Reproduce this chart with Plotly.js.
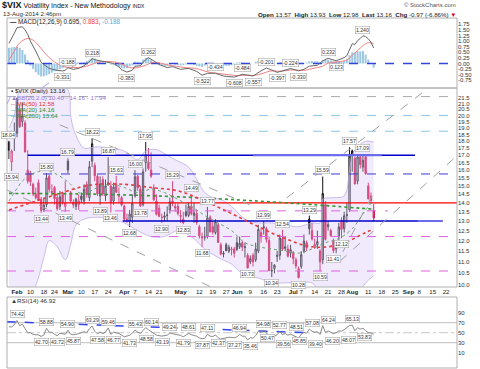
<!DOCTYPE html>
<html><head><meta charset="utf-8">
<script src="https://cdn.plot.ly/plotly-3.0.1.min.js"></script>
<style>html,body{margin:0;padding:0;background:#fff}#c{width:480px;height:369px}</style>
</head><body><div id="c"></div><script>
// ---------- DATA ----------
const holidays = ['02-17','04-18','05-26','07-04','09-01'];
const prevClose = 15.80; // Jan 28 close
const O = [17.95,16.55,18.70, 18.60,20.40,19.50,19.40,16.00, 15.80,15.10,14.50,15.20,14.20, 13.60,13.90,15.60,14.60, 14.90,14.30,13.80,14.50,13.80,
 16.60,14.60,14.00,13.80,13.90, 14.40,14.10,15.10,14.30,16.60, 16.30,15.60,14.40,15.40,14.40, 15.20,15.00,14.10,15.10,14.40,
 14.30,13.80,13.10,13.00,13.20, 14.40,15.60,14.80,13.90,16.50, 16.50,16.00,14.90,14.10, 13.70,13.20,13.20,13.30,13.60,
 14.10,13.80,13.80,13.30,13.10, 13.50,13.30,13.80,13.30,13.40, 12.70,12.20,12.20,12.20,13.20, 12.70,12.40,12.80,11.80,11.40, 11.80,11.50,11.60,11.60,
 11.90,11.70,11.90,11.70,11.30, 11.00,11.30,11.10,11.50,12.40, 12.70,12.60,12.00,10.60,10.70, 11.30,11.30,12.10,11.70,11.60, 11.40,11.40,11.10,10.70,
 10.80,11.50,11.90,13.10,12.50, 11.70,11.80,11.50,11.10,13.90, 12.70,12.50,12.00,11.60,12.20, 13.00,12.60,13.30,13.60,17.30,
 16.80,15.30,16.90,16.20,16.90, 15.00,14.40,13.57];
const H = [18.04,17.40,19.43, 21.48,20.90,21.09,19.60,17.35, 15.95,15.20,14.90,15.40,14.35, 14.30,15.80,15.70,15.10, 15.00,14.50,14.70,14.60,15.30,
 16.79,14.70,14.20,14.30,14.50, 14.60,15.10,15.30,16.60,18.22, 16.50,15.70,15.60,15.60,15.40, 16.87,15.30,15.20,15.63,14.90,
 14.40,13.90,13.40,13.60,14.50, 16.00,15.70,15.00,16.10,17.95, 17.50,17.20,15.10,14.50, 13.90,13.40,13.50,13.80,14.30,
 15.29,14.00,14.00,13.60,13.50, 13.90,14.00,14.49,14.00,13.60, 12.80,12.40,12.70,13.77,13.30, 13.00,13.10,12.90,11.90,11.50, 11.90,11.80,11.70,11.70,
 12.20,12.20,12.00,11.90,11.40, 11.30,11.40,11.90,12.80,12.60, 12.99,12.70,12.20,11.00,10.90, 11.50,12.30,12.54,12.20,11.80, 11.80,11.50,11.20,10.80,
 11.50,12.30,12.00,13.29,12.90, 12.10,12.50,11.60,15.59,14.10, 13.00,12.60,12.10,12.00,12.90, 13.20,13.50,14.00,17.57,17.40,
 16.90,17.00,17.05,17.09,17.00, 15.20,14.60,13.93];
const L = [16.74,15.94,17.30, 18.30,19.00,19.10,17.20,15.15, 15.00,14.40,14.20,14.10,13.44, 13.50,13.75,14.60,14.40, 13.90,13.55,13.60,13.90,13.49,
 15.80,14.00,13.70,13.60,13.60, 14.00,13.90,14.30,14.10,16.20, 15.30,14.40,13.89,14.40,14.10, 15.00,13.46,13.90,14.60,14.00,
 13.80,13.00,12.90,12.68,12.90, 14.30,14.70,13.78,13.80,15.90, 16.00,15.50,14.10,13.30, 13.20,12.90,13.00,13.00,13.40,
 13.80,13.50,13.30,12.90,12.83, 13.20,13.20,13.30,12.90,12.80, 12.10,11.68,12.00,12.10,12.40, 12.30,12.30,11.90,11.30,11.20, 11.50,11.40,11.30,11.20,
 11.50,11.60,11.50,11.20,10.73, 10.90,10.80,11.00,11.40,11.90, 12.30,11.90,10.60,10.34,10.50, 11.00,11.10,11.50,11.50,11.20, 11.20,10.90,10.70,10.28,
 10.70,11.40,11.50,12.30,12.00, 11.60,11.60,10.59,10.90,12.00, 12.50,12.20,11.41,11.40,12.00, 12.12,12.40,12.90,13.50,15.90,
 15.10,15.10,16.10,15.90,15.70, 14.20,14.00,12.98];
const C = [17.35,17.29,18.41, 21.44,19.11,19.95,17.23,15.29, 15.26,14.51,14.30,14.14,13.57, 13.87,15.50,14.79,14.68, 14.23,13.67,14.35,14.04,14.00,
 16.00,14.10,13.89,14.21,14.11, 14.20,14.80,14.47,16.22,17.82, 15.64,14.52,15.12,14.52,15.00, 15.09,14.02,14.93,14.62,14.41,
 13.88,13.10,13.09,13.37,13.96, 15.57,14.89,13.82,15.89,17.03, 16.11,15.61,14.18,13.36, 13.25,13.19,13.27,13.32,14.06,
 13.97,13.71,13.41,13.25,12.91, 13.29,13.80,13.40,13.43,12.92, 12.23,12.13,12.17,13.17,12.44, 12.42,12.96,11.91,11.36,11.36, 11.51,11.68,11.57,11.40,
 11.58,11.87,11.68,11.68,10.73, 11.15,11.00,11.60,12.56,12.18, 12.65,12.06,10.61,10.62,10.85, 11.26,12.13,11.59,11.63,11.26, 11.57,11.15,10.82,10.32,
 11.33,11.98,11.65,12.59,12.08, 11.82,11.96,11.00,14.54,12.06, 12.81,12.24,11.52,11.84,12.69, 12.56,13.28,13.33,16.95,17.03,
 15.12,16.87,16.37,16.66,15.77, 14.23,14.13,13.16];
const histValues = [0.70,0.72,0.74, 0.75,0.70,0.60,0.40,0.15, -0.10,-0.24,-0.39,-0.51,-0.58, -0.57,-0.53,-0.48,-0.41, -0.35,-0.31,-0.25,-0.21,-0.14,
 -0.03,-0.08,-0.07,-0.04,-0.02, 0.03,0.05,0.12,0.18,0.24, 0.22,0.15,0.10,0.05,0.02, 0.00,-0.05,-0.07,-0.12,-0.15,
 -0.20,-0.23,-0.20,-0.12,-0.08, 0.08,0.08,0.05,0.18,0.25, 0.24,0.15,0.08,0.00, -0.05,-0.08,-0.10,-0.10,-0.05,
 -0.02,-0.05,-0.07,-0.08,-0.07, -0.04,0.00,-0.02,-0.06,-0.10, -0.13,-0.15,-0.10,-0.03,0.00, 0.02,0.00,-0.05,-0.08,-0.09, -0.10,-0.10,-0.08,-0.04,
 0.04,0.06,0.04,0.00,-0.02, -0.01,0.00,0.08,0.14,0.17, 0.22,0.20,0.10,0.05,0.00, -0.02,0.05,0.06,0.06,0.07, 0.07,0.05,0.00,-0.03,
 -0.02,0.02,0.05,0.10,0.11, 0.10,0.10,0.06,0.15,0.16, 0.17,0.14,0.09,0.06,0.10, 0.08,0.12,0.19,0.37,0.50,
 0.48,0.55,0.54,0.55,0.40, 0.175,0.02,-0.188];

const macdDates = ['01-29','01-30','01-31','02-03','02-05','02-06','02-07','02-10','02-11','02-12','02-13','02-14','02-18','02-19','02-20','02-21','02-24','02-25','02-27','02-28',
 '03-03','03-05','03-07','03-11','03-13','03-14','03-17','03-20','03-24','03-26','03-28','03-31','04-02','04-04','04-07','04-09','04-11','04-14','04-16','04-21','04-24','04-28',
 '05-01','05-06','05-09','05-13','05-15','05-20','05-23','05-30','06-04','06-06','06-10','06-13','06-17','06-20','06-23','06-27','06-30','07-03','07-08','07-10','07-15','07-17',
 '07-21','07-24','07-29','07-30','07-31','08-01','08-04','08-05','08-06','08-07','08-08','08-11','08-12','08-13'];
const macdValues = [0.90,1.10,1.35,1.60,1.64,1.50,1.30,1.00,0.80,0.55,0.30,0.05,-0.05,-0.15,-0.22,-0.25,-0.28,-0.31,-0.331,-0.30,
 -0.188,-0.26,-0.22,-0.10,0.08,0.218,0.17,0.10,0.08,0.00,-0.15,-0.28,-0.383,-0.30,-0.12,-0.10,0.18,0.262,0.12,-0.05,-0.18,-0.14,
 -0.26,-0.22,-0.35,-0.522,-0.44,-0.434,-0.56,-0.608,-0.484,-0.53,-0.557,-0.33,-0.201,-0.34,-0.397,-0.26,-0.224,-0.330,-0.26,-0.12,-0.08,0.12,
 0.232,0.123,0.26,0.35,0.62,0.88,0.85,1.02,1.12,1.240,1.20,1.10,0.95,0.695];
const macdSide = [0,0,0,0,0,0,0,0,0,0,0,0,0,0,0,0,0,0,-1,0, 1,0,0,0,0,1,0,0,0,0,0,0,-1,0,0,0,0,1,0,0,0,0,
 0,0,0,-1,0,1,0,-1,1,0,-1,0,1,0,-1,0,1,-1,0,0,0,0, 1,-1,0,0,0,0,0,0,0,1,0,0,0,0];
const signalDates = ['01-29','01-31','02-04','02-07','02-11','02-13','02-18','02-20','02-24','02-26','02-28','03-04','03-06','03-10','03-12','03-14','03-18','03-20','03-24','03-26','03-28',
 '04-01','04-03','04-07','04-09','04-11','04-15','04-17','04-22','04-24','04-28','05-01','05-05','05-08','05-12','05-14','05-16','05-20','05-22','05-28','06-02','06-04','06-06','06-10',
 '06-12','06-16','06-18','06-20','06-24','06-26','06-30','07-02','07-07','07-09','07-11','07-15','07-17','07-21','07-23','07-25','07-29','07-30','07-31','08-01','08-04','08-05','08-06',
 '08-07','08-08','08-11','08-12','08-13'];
const signalValues = [0.15,0.55,0.92,1.12,1.04,0.81,0.52,0.26,0.07,-0.07,-0.16,-0.17,-0.18,-0.17,-0.12,-0.04,0.05,0.08,0.09,0.07,0.02,
 -0.08,-0.18,-0.20,-0.15,-0.08,0.03,0.05,0.00,-0.06,-0.10,-0.15,-0.19,-0.21,-0.26,-0.34,-0.40,-0.43,-0.46,-0.50,-0.54,-0.53,-0.52,-0.54,
 -0.50,-0.43,-0.35,-0.33,-0.35,-0.32,-0.29,-0.29,-0.31,-0.29,-0.23,-0.18,-0.12,0.02,0.06,0.08,0.12,0.16,0.25,0.375,0.47,0.58,0.69,
 0.80,0.881,0.925,0.93,0.883];

const rsiDates = ['01-29','01-30','01-31','02-03','02-04','02-05','02-06','02-07','02-10','02-11','02-13','02-14','02-18','02-19','02-20','02-21','02-24','02-25','02-26','02-28',
 '03-03','03-04','03-05','03-07','03-11','03-12','03-13','03-14','03-17','03-18','03-19','03-20','03-21','03-24','03-25','03-26','03-28','03-31','04-01','04-03','04-04','04-07','04-08','04-09','04-10','04-11',
 '04-14','04-16','04-17','04-22','04-24','04-25','04-29','05-01','05-02','05-05','05-06','05-07','05-09','05-12','05-13','05-14','05-15','05-16','05-19','05-20','05-21','05-22',
 '05-27','05-28','05-30','06-02','06-03','06-04','06-05','06-06','06-09','06-10','06-11','06-12','06-13','06-16','06-17','06-18','06-19','06-20','06-23','06-24','06-25','06-26',
 '06-27','06-30','07-01','07-02','07-03','07-07','07-08','07-09','07-10','07-11','07-14','07-15','07-16','07-17','07-18','07-21','07-22','07-23','07-24','07-25','07-28','07-29',
 '07-31','08-01','08-04','08-05','08-06','08-07','08-08','08-11','08-12','08-13'];
const rsiValues = [62,61.5,66,74.42,64,67,58,50,50,46.5,45.5,42.70,45,58.88,51,50.5,47,43.72,49,46.8,
 54.90,47,45.87,48,52,50,58,63.29,53,47.58,51.5,48,51,59.46,46.77,51,48.5,45,41.73,45,49,55.43,51,48.58,55,60.14,
 56,48,45,43.19,45,49.24,47,44.5,41.79,45,48.61,46,43,39.5,37.87,38.5,47.11,43,42.37,45.5,40,37.27,
 39,41,40,41.5,46.94,43,43,35.46,40,39,44,53,50.47,54.98,50,40,39.56,42,46,52.77,45.85,48.51,
 45,47,44,42,39.40,47,51,49,57.08,53,51,52,46.20,64.24,50.5,53.5,51,48.07,50,53.5,53,56,
 64.5,65.13,53.83,60,57,59,54,50,49.5,46.92];
const rsiSide = [0,0,0,1,0,0,0,0,0,0,0,-1,0,1,0,0,0,-1,0,0,
 1,0,-1,0,0,0,0,1,0,-1,0,0,0,1,-1,0,0,0,-1,0,0,1,0,-1,0,1,
 0,0,0,-1,0,1,0,0,-1,0,1,0,0,0,-1,0,1,0,-1,0,0,-1,
 0,0,0,0,1,0,0,-1,0,0,0,0,-1,1,0,0,-1,0,0,1,-1,1,
 0,0,0,0,-1,0,0,0,1,0,0,0,-1,1,0,0,0,-1,0,0,0,0,
 0,1,-1,0,0,0,0,0,0,0];

const ma20Dates = ['01-29','01-31','02-05','02-10','02-13','02-19','02-24','02-27','03-04','03-07','03-12','03-18','03-25','04-01','04-08','04-15','04-23','04-30','05-07','05-14','05-21','05-29','06-05','06-12','06-19','06-26','07-03','07-11','07-18','07-25','08-01','08-08','08-13'];
const ma20Values = [14.1,14.6,15.3,15.7,15.9,16.0,15.8,15.5,15.1,14.6,14.6,14.9,15.1,14.9,14.6,14.8,14.6,14.2,13.8,13.3,12.9,12.5,11.9,11.7,11.6,11.5,11.4,11.6,11.9,12.1,12.6,13.6,14.16];
const ma50Dates = ['01-29','02-10','02-19','02-27','03-07','03-18','04-01','04-15','04-30','05-14','05-29','06-12','06-26','07-11','07-25','08-08','08-13'];
const ma50Values = [13.6,14.0,14.3,14.6,14.9,15.1,15.1,14.9,14.7,14.1,13.4,12.7,12.1,11.7,11.8,12.4,12.58];
const ma200Dates = ['01-29','03-18','04-30','06-12','07-11','08-13'];
const ma200Values = [14.55,14.5,14.35,14.1,13.9,13.64];
const bbUpDates = ['01-29','01-31','02-03','02-05','02-10','02-19','02-25','03-03','03-04','03-05','03-07','03-11','03-18','03-25','04-01','04-08','04-11','04-17','04-24','04-30','05-06','05-09','05-14','05-19','05-22','05-29','06-05','06-12','06-19','06-26','07-03','07-11','07-16','07-17','07-23','07-29','07-31','08-01','08-05','08-08','08-13'];
const bbUpValues = [19.0,20.0,21.5,22.4,22.9,22.8,22.6,22.2,20.0,19.0,18.0,17.5,17.6,17.5,17.3,16.7,17.3,17.4,17.0,16.6,16.2,15.4,14.6,14.3,14.2,13.8,13.1,12.9,12.9,12.8,12.7,12.9,12.9,14.2,14.3,14.4,16.0,17.0,17.6,18.0,17.94];
const bbLoDates = ['01-29','02-06','02-12','02-18','02-20','02-25','02-28','03-04','03-06','03-11','03-18','03-25','04-01','04-08','04-15','04-23','04-30','05-07','05-14','05-21','05-29','06-05','06-12','06-19','06-26','07-03','07-11','07-17','07-23','07-29','08-01','08-06','08-08','08-13'];
const bbLoValues = [9.0,9.3,10.0,11.2,12.0,11.7,11.1,11.8,12.8,13.1,13.2,13.1,12.9,12.5,12.2,12.2,12.5,12.2,11.6,11.2,10.9,10.4,10.3,10.1,10.1,10.1,10.1,9.6,9.6,9.9,9.5,9.8,10.1,10.40];

const tickDates = ['02-03','02-10','02-18','02-24','03-03','03-10','03-17','03-24','04-01','04-07','04-14','04-21','05-01','05-12','05-19','05-27','06-02','06-09','06-16','06-23','07-01','07-07','07-14','07-21','07-28','08-01','08-11','08-18','08-25','09-02','09-08','09-15','09-22'];
const tickLabels = ['Feb','10','18','24','Mar','10','17','24','Apr','7','14','21','May','12','19','27','Jun','9','16','23','Jul','7','14','21','28','Aug','11','18','25','Sep','8','15','22'];
const priceTicks = [10.0,10.5,11.0,11.5,12.0,12.5,13.0,13.5,14.0,14.5,15.0,15.5,16.0,16.5,17.0,17.5,18.0,18.5,19.0,19.5,20.0,20.5,21.0,21.5];
const macdTicks = [-0.75,-0.5,-0.25,0,0.25,0.5,0.75,1.0,1.25,1.5,1.75];
const rsiTicks = [10,30,50,70,90];
const highLabelDates = ['01-29','02-19','03-03','03-14','03-24','03-27','04-07','04-11','04-28','05-07','05-15','06-16','06-25','07-10','07-17','07-31','08-07'];
const lowLabelDates = ['01-30','02-14','02-28','03-19','03-25','04-03','04-09','04-22','05-02','05-13','06-06','06-19','07-03','07-16','07-23','07-28'];

// ---------- helpers ----------
const days = [];
for (let d = new Date(Date.UTC(2014,0,29)); d <= new Date(Date.UTC(2014,8,30)); d.setUTCDate(d.getUTCDate()+1)) {
  const wd = d.getUTCDay(); if (wd === 0 || wd === 6) continue;
  const s = String(d.getUTCMonth()+1).padStart(2,'0') + '-' + String(d.getUTCDate()).padStart(2,'0');
  if (holidays.includes(s)) continue;
  days.push(s);
}
const xOf = s => days.indexOf(s);
const xs = arr => arr.map(xOf);
const FONT = 'Liberation Sans, Arial, sans-serif';
const XR = [-0.73, 167.07];
const PX = px => (px - 7) / 450, PY = py => (368 - py) / 350;
const L10 = Math.log10;
const xToPx = x => 7 + (x - XR[0]) / (XR[1] - XR[0]) * 450;

const traces = [];
// MACD panel
traces.push({type:'bar', x: histValues.map((v,i)=>i), y: histValues, xaxis:'x', yaxis:'y',
  marker:{color:'#9cc7e4', line:{width:0}}, width:0.75, hoverinfo:'skip'});
traces.push({type:'scatter', mode:'lines', x: XR, y:[0,0], xaxis:'x', yaxis:'y', line:{color:'#3344dd', width:1.3, dash:'dash'}, hoverinfo:'skip'});
traces.push({type:'scatter', mode:'lines', x: xs(signalDates), y: signalValues, xaxis:'x', yaxis:'y', line:{color:'#f08080', width:1, shape:'spline'}, hoverinfo:'skip'});
traces.push({type:'scatter', mode:'lines', x: xs(macdDates), y: macdValues, xaxis:'x', yaxis:'y', line:{color:'#666', width:1}, hoverinfo:'skip'});

// Price panel: Bollinger band
traces.push({type:'scatter', mode:'lines', x: xs(bbLoDates), y: bbLoValues, xaxis:'x', yaxis:'y2', line:{color:'rgba(185,165,230,0.9)', width:0.8, shape:'spline'}, hoverinfo:'skip'});
traces.push({type:'scatter', mode:'lines', x: xs(bbUpDates), y: bbUpValues, xaxis:'x', yaxis:'y2', line:{color:'rgba(185,165,230,0.9)', width:0.8, shape:'spline'}, fill:'tonexty', fillcolor:'rgba(215,200,248,0.38)', hoverinfo:'skip'});
// horizontal reference lines
function hline(v, x0, x1, color, width, dash) {
  traces.push({type:'scatter', mode:'lines', x:[x0,x1], y:[v,v], xaxis:'x', yaxis:'y2', line:{color, width, dash}, hoverinfo:'skip'});
}
hline(21.6, XR[0], XR[1], '#aaaaaa', 1, 'dash');
hline(20.0, XR[0], XR[1], '#8cc6ee', 1, 'dash');
hline(18.75, XR[0], XR[1], '#8cc6ee', 1, 'dash');
hline(15.75, XR[0], XR[1], '#3b3bd6', 1, 'dash');
hline(12.2, XR[0], XR[1], '#e060e0', 1, 'dash');
hline(10.6, XR[0], XR[1], '#e060e0', 1, 'dash');
hline(13.55, XR[0], 141.3, '#e060e0', 1, 'dash');
hline(14.0, XR[0], XR[1], '#ff0000', 1.4, 'solid');
hline(17.0, 7.0, 151.4, '#0000cc', 1.5, 'solid');
hline(17.0, 91, 139, '#6b6bee', 2, 'solid');
hline(13.0, 42.4, 152.5, '#0000cc', 1.5, 'solid');
hline(13.0, 152.5, 161.8, '#6b6bee', 2, 'solid');
// trend lines [x0,v0,x1,v1]
const trendLines = [[18.96,19.25,89.8,13.89],[-0.84,14.76,86.1,9.39],[103.6,14.29,155.5,22.2],[123.4,11.03,167.07,16.97],[124.5,11.46,135.35,14.4]];
trendLines.forEach(t => traces.push({type:'scatter', mode:'lines', x:[t[0],t[2]], y:[t[1],t[3]], xaxis:'x', yaxis:'y2', line:{color:'#a0a0a0', width:1, dash:'dash'}, hoverinfo:'skip'}));
// moving averages
traces.push({type:'scatter', mode:'lines', x: xs(ma200Dates), y: ma200Values, xaxis:'x', yaxis:'y2', line:{color:'#2e9a2e', width:1.6, dash:'dot', shape:'spline'}, hoverinfo:'skip'});
traces.push({type:'scatter', mode:'lines', x: xs(ma20Dates), y: ma20Values, xaxis:'x', yaxis:'y2', line:{color:'#6f9f6f', width:1, dash:'dot', shape:'spline'}, hoverinfo:'skip'});
traces.push({type:'scatter', mode:'lines', x: xs(ma50Dates), y: ma50Values, xaxis:'x', yaxis:'y2', line:{color:'#e83a3a', width:1.6, dash:'dot', shape:'spline'}, hoverinfo:'skip'});
// candles split by change from previous close
const up = {x:[],o:[],h:[],l:[],c:[]}, dn = {x:[],o:[],h:[],l:[],c:[]};
C.forEach((c,i) => { const pc = i ? C[i-1] : prevClose; const g = c >= pc ? up : dn;
  g.x.push(i); g.o.push(O[i]); g.h.push(H[i]); g.l.push(L[i]); g.c.push(c); });
function candle(g, col) {
  return {type:'candlestick', x:g.x, open:g.o, high:g.h, low:g.l, close:g.c, xaxis:'x', yaxis:'y2',
    increasing:{line:{color:col, width:1}, fillcolor:'#ffffff'}, decreasing:{line:{color:col, width:1}, fillcolor:col},
    whiskerwidth:0, hoverinfo:'skip', showlegend:false};
}
traces.push(candle(up, '#111111'));
traces.push(candle(dn, '#d4003a'));

// RSI panel
traces.push({type:'scatter', mode:'lines', x: XR, y:[70,70], xaxis:'x', yaxis:'y3', line:{color:'#bdbdbd', width:1}, hoverinfo:'skip'});
traces.push({type:'scatter', mode:'lines', x: XR, y:[30,30], xaxis:'x', yaxis:'y3', line:{color:'#bdbdbd', width:1}, hoverinfo:'skip'});
traces.push({type:'scatter', mode:'lines', x: XR, y:[50,50], xaxis:'x', yaxis:'y3', line:{color:'#c8c8c8', width:1, dash:'dashdot'}, hoverinfo:'skip'});
traces.push({type:'scatter', mode:'lines', x: [-0.84,111.5], y:[72,50], xaxis:'x', yaxis:'y3', line:{color:'#3344ee', width:1.5, dash:'dash'}, hoverinfo:'skip'});
traces.push({type:'scatter', mode:'lines', x: xs(rsiDates), y: rsiValues, xaxis:'x', yaxis:'y3', line:{color:'#8a8a8a', width:1}, hoverinfo:'skip'});

// ---------- annotations ----------
const ann = [];
function note(text, px, py, o) {
  ann.push(Object.assign({xref:'paper', yref:'paper', x:PX(px), y:PY(py), text, showarrow:false,
    xanchor:'left', yanchor:'middle', font:{family:FONT, size:6.5, color:'#222'}}, o||{}));
}
function tag(text, x, yref, y, side, xshift) {
  ann.push({xref:'x', yref, x, y, text, showarrow:false, xanchor:'center', yanchor: side > 0 ? 'bottom' : 'top',
    yshift: side > 0 ? 2 : -2, xshift: xshift || 0, bgcolor:'#ffffff', bordercolor:'#aaaaaa', borderwidth:0.6, borderpad:0.3,
    font:{family:FONT, size:5.2, color:'#333'}});
}
// place a row of value tags, nudging sideways so boxes on the same side do not collide
function tagRow(dates, values, sides, yref, digits) {
  const lastRight = {1:-1e9, '-1':-1e9};
  dates.forEach((d,i) => {
    if (!sides[i]) return;
    const x = xOf(d), txt = values[i].toFixed(digits), w = txt.length * 2.75 + 2;
    const px = xToPx(x); let sh = 0;
    if (px - w/2 < lastRight[sides[i]] + 0.5) sh = lastRight[sides[i]] + 0.5 - (px - w/2);
    lastRight[sides[i]] = px + sh + w/2;
    tag(txt, x, yref, values[i], sides[i], sh);
  });
}
note('<b><span style="font-size:9px">$VIX</span></b> Volatility Index - New Methodology <span style="font-size:5px">INDX</span>', 0, 5, {font:{family:FONT, size:7, color:'#111'}});
note('13-Aug-2014 2:46pm', 1, 13.5, {font:{family:FONT, size:6.2, color:'#333'}});
note('© StockCharts.com', 458, 5.5, {xanchor:'right', font:{family:FONT, size:6, color:'#555'}});
note('<b>Open</b> 13.57  <b>High</b> 13.93  <b>Low</b> 12.98  <b>Last</b> 13.16  <b>Chg</b> -0.97 (-6.86%) <span style="color:#d0003a">▼</span>', 458, 14, {xanchor:'right', font:{family:FONT, size:6.2, color:'#222'}});
note('<b>—</b> MACD(12,26,9) 0.695, <span style="color:#ff3b3b">0.883</span>, <span style="color:#5aa6d6">-0.188</span>', 8, 21.5, {font:{family:FONT, size:6.3, color:'#222'}});
note('<b>▪</b> $VIX (Daily) 13.16', 9, 90.5, {font:{family:FONT, size:6.2, color:'#222'}});
note('▲BB(20,2.0) 10.40 - 14.16 - 17.94', 9, 97, {font:{family:FONT, size:6.2, color:'#9a7ad0'}});
note('-- MA(50) 12.58', 9, 103.2, {font:{family:FONT, size:6.2, color:'#e03030'}});
note('-- MA(20) 14.16', 9, 109.2, {font:{family:FONT, size:6.2, color:'#2a8a2a'}});
note('-- MA(200) 13.64', 9, 115.2, {font:{family:FONT, size:6.2, color:'#2a8a2a'}});
note('▲RSI(14) 46.92', 9, 300.7, {font:{family:FONT, size:6.2, color:'#333'}});
tagRow(macdDates, macdValues, macdSide, 'y', 3);
tagRow(rsiDates, rsiValues, rsiSide, 'y3', 2);
highLabelDates.forEach(d => { const i = xOf(d); tag(H[i].toFixed(2), i, 'y2', L10(H[i]), 1); });
lowLabelDates.forEach(d => { const i = xOf(d); tag(L[i].toFixed(2), i, 'y2', L10(L[i]), -1); });

// ---------- shapes (panel frames, drawn trend lines) ----------
const shapes = [
  {type:'rect', xref:'paper', yref:'paper', x0:PX(7), x1:PX(457), y0:PY(88), y1:PY(18), line:{color:'#b0b0b0', width:1}},
  {type:'rect', xref:'paper', yref:'paper', x0:PX(7), x1:PX(457), y0:PY(287), y1:PY(88), line:{color:'#b0b0b0', width:1}},
  {type:'rect', xref:'paper', yref:'paper', x0:PX(7), x1:PX(457), y0:PY(368), y1:PY(297), line:{color:'#b0b0b0', width:1}},
  {type:'line', xref:'paper', yref:'paper', x0:PX(41.7), y0:PY(88), x1:PX(92), y1:PY(53), line:{color:'#a9a0f0', width:1, dash:'dash'}},
  {type:'line', xref:'paper', yref:'paper', x0:PX(7), y0:PY(104), x1:PX(14), y1:PY(89), line:{color:'#a9a0f0', width:1, dash:'dash'}}
];

const axisTick = {family:FONT, size:6, color:'#333'};
const layout = {
  width:480, height:369, margin:{l:7, r:23, t:18, b:1}, paper_bgcolor:'#fff', plot_bgcolor:'rgba(0,0,0,0)',
  showlegend:false, hovermode:false, barmode:'overlay',
  xaxis:{domain:[0,1], range:XR, anchor:'y2', type:'linear', showgrid:false, zeroline:false, showline:false,
    tickvals: xs(tickDates), ticktext: tickLabels.map(t => /^[A-Z]/.test(t) ? '<b>'+t+'</b>' : t),
    ticks:'', tickangle:0, automargin:false, tickfont:{family:FONT, size:6.2, color:'#222'}, rangeslider:{visible:false}, fixedrange:true},
  yaxis:{domain:[0.8,1], range:[-1.094, 2.031], side:'right', anchor:'x', showgrid:false, zeroline:false,
    tickvals:macdTicks, ticktext:macdTicks.map(v=>v.toFixed(2)), ticks:'', tickfont:axisTick},
  yaxis2:{domain:[0.2314,0.8], type:'log', range:[L10(9.93), L10(22.37)], side:'right', anchor:'x', showgrid:false, zeroline:false,
    tickvals:priceTicks, ticktext:priceTicks.map(v=>v.toFixed(1)), ticks:'', tickfont:axisTick},
  yaxis3:{domain:[0,0.2029], range:[-20.6, 121.4], side:'right', anchor:'x', showgrid:false, zeroline:false,
    tickvals:rsiTicks, ticktext:rsiTicks.map(String), ticks:'', tickfont:axisTick},
  annotations: ann, shapes
};
Plotly.newPlot('c', traces, layout, {staticPlot:true, displayModeBar:false});
</script></body></html>
